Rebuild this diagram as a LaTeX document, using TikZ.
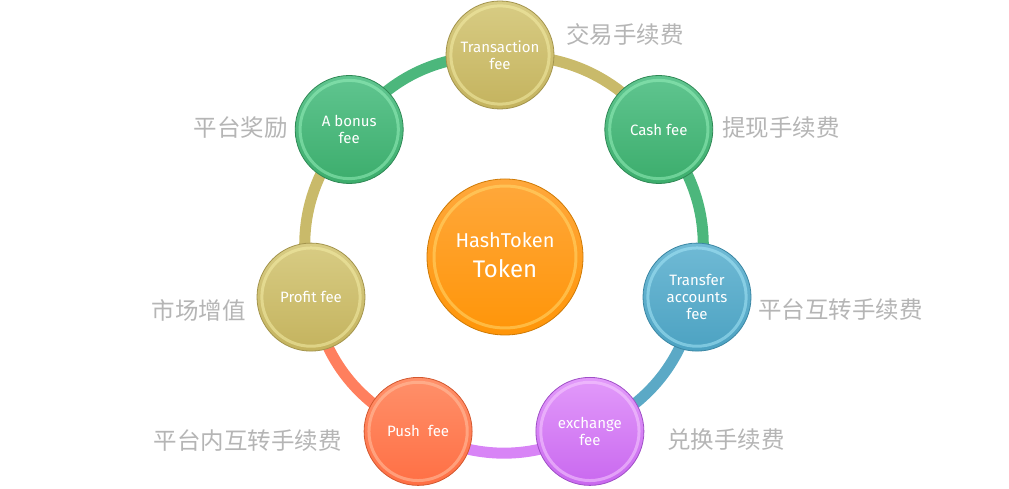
\documentclass[tikz,border=0pt]{standalone}
\usepackage{fontspec}
\setmainfont{Fira Sans}
\newfontfamily\cjk{Noto Sans CJK SC}
\usetikzlibrary{backgrounds,calc}
\definecolor{tanT}{HTML}{D8CC84}\definecolor{tanB}{HTML}{C4B35E}\definecolor{tanR}{HTML}{A3944C}\definecolor{tanH}{HTML}{F4EDA6}\definecolor{tanS}{HTML}{C9BA6A}
\definecolor{grnT}{HTML}{60C590}\definecolor{grnB}{HTML}{3CAD6C}\definecolor{grnR}{HTML}{2F8955}\definecolor{grnH}{HTML}{95EFBA}\definecolor{grnS}{HTML}{4CB77C}
\definecolor{bluT}{HTML}{70BAD5}\definecolor{bluB}{HTML}{4CA2C2}\definecolor{bluR}{HTML}{3A86A3}\definecolor{bluH}{HTML}{A5E6F7}\definecolor{bluS}{HTML}{5BA9C6}
\definecolor{purT}{HTML}{E29AFA}\definecolor{purB}{HTML}{C968EF}\definecolor{purR}{HTML}{9F4FC6}\definecolor{purH}{HTML}{F7CDFF}\definecolor{purS}{HTML}{D884F6}
\definecolor{orgT}{HTML}{FF906A}\definecolor{orgB}{HTML}{FF6F44}\definecolor{orgR}{HTML}{D2572E}\definecolor{orgH}{HTML}{FFC3A4}\definecolor{orgS}{HTML}{FF7F5E}
\definecolor{ctrT}{HTML}{FFA83C}\definecolor{ctrB}{HTML}{FF9508}\definecolor{ctrR}{HTML}{CF7A05}\definecolor{ctrH}{HTML}{FFD96E}
\definecolor{labgray}{HTML}{B5B5B5}
\tikzset{
  coin/.style={circle, inner sep=0pt, draw=#1R, line width=0.8pt,
    top color=#1T, bottom color=#1B, text=white, align=center,
    path picture={\draw[#1H, line width=3pt, opacity=.55]
      let \p1=(path picture bounding box.north east), \p2=(path picture bounding box.center)
      in (\p2) circle[radius={(\x1-\x2)*0.91}];}},
  sat/.style={coin=#1, minimum size=108pt, font=\fontsize{15}{17}\selectfont},
  ring/.style={line width=11pt},
  lab/.style={font=\cjk\fontsize{23.5}{26}\selectfont, text=labgray, inner sep=0pt}
}
\begin{document}
\begin{tikzpicture}[x=1pt,y=1pt]
\useasboundingbox (0,0) rectangle (1009,489);
\node[sat=tan] (t) at (500,434) {Transaction\\fee};
\node[sat=grn] (c) at (658.8,359.5) {Cash fee};
\node[sat=blu] (r) at (697.0,191.9) {Transfer\\accounts\\fee};
\node[sat=pur] (e) at (589.9,57.6) {exchange\\fee};
\node[sat=org] (p) at (418.1,57.6) {Push\ \ fee};
\node[sat=tan] (f) at (311.0,191.9) {Profit fee};
\node[sat=grn] (b) at (349.2,359.5) {A bonus\\fee};
\node[coin=ctr, minimum size=156pt] (h) at (505,232)
  {\raisebox{4pt}{\begin{tabular}{@{}c@{}}{\fontsize{20}{22}\selectfont HashToken}\\[8pt]{\fontsize{24}{26}\selectfont Token}\end{tabular}}};
\begin{scope}[on background layer]
\draw[ring, tanS] (t.center) to[bend left=25.71] (c.center);
\draw[ring, grnS] (c.center) to[bend left=25.71] (r.center);
\draw[ring, bluS] (r.center) to[bend left=25.71] (e.center);
\draw[ring, purS] (e.center) to[bend left=25.71] (p.center);
\draw[ring, orgS] (p.center) to[bend left=25.71] (f.center);
\draw[ring, tanS] (f.center) to[bend left=25.71] (b.center);
\draw[ring, grnS] (b.center) to[bend left=25.71] (t.center);
\end{scope}
\node[lab, anchor=west] (l1) at (566,454) {交易手续费};
\node[lab, anchor=west] (l2) at (722,361) {提现手续费};
\node[lab, anchor=west] (l3) at (758,179) {平台互转手续费};
\node[lab, anchor=west] (l4) at (667,49) {兑换手续费};
\node[lab, anchor=east] (l5) at (342,48) {平台内互转手续费};
\node[lab, anchor=east] (l6) at (246,179) {市场增值};
\node[lab, anchor=east] (l7) at (288,361) {平台奖励};
\end{tikzpicture}
\end{document}
